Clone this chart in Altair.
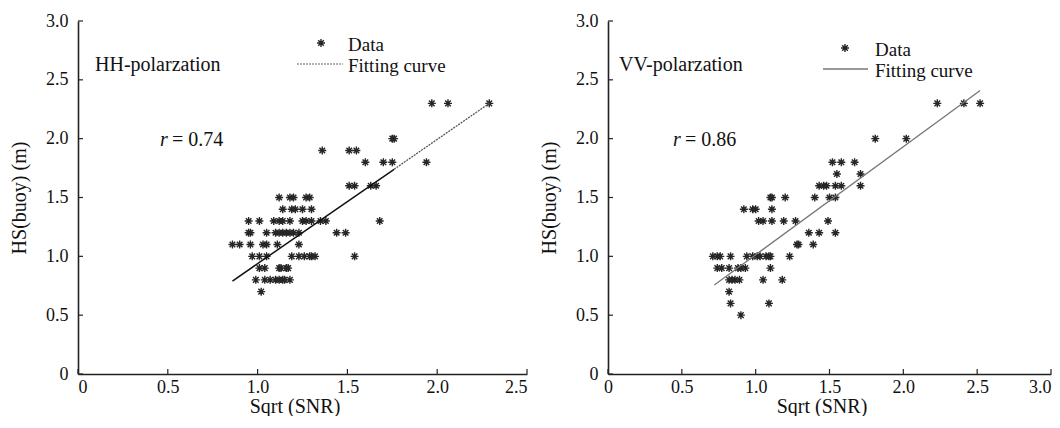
import altair as alt
import pandas as pd

FONT = "Liberation Serif"

# ---------------- data ----------------
# HH-polarization scatter
hh_x = [1.97, 2.06, 2.29,
        1.75, 1.76,
        1.36, 1.51, 1.55,
        1.60, 1.70, 1.75, 1.94,
        1.51, 1.54, 1.63, 1.66,
        1.12, 1.18, 1.20, 1.27, 1.29,
        1.14, 1.19, 1.21, 1.25, 1.30,
        0.95, 1.01, 1.09, 1.12, 1.14, 1.18, 1.25, 1.27, 1.30, 1.35, 1.38, 1.68,
        0.95, 0.96, 1.05, 1.10, 1.12, 1.14, 1.16, 1.18, 1.20, 1.23, 1.44, 1.49,
        0.86, 0.90, 0.96, 1.03, 1.05, 1.11, 1.23,
        0.97, 1.01, 1.05, 1.19, 1.23, 1.26, 1.29, 1.30, 1.32, 1.54,
        1.01, 1.04, 1.12, 1.13, 1.16, 1.17,
        0.99, 1.04, 1.07, 1.10, 1.12, 1.14, 1.15, 1.18,
        1.02]
hh_y = [2.3, 2.3, 2.3,
        2.0, 2.0,
        1.9, 1.9, 1.9,
        1.8, 1.8, 1.8, 1.8,
        1.6, 1.6, 1.6, 1.6,
        1.5, 1.5, 1.5, 1.5, 1.5,
        1.4, 1.4, 1.4, 1.4, 1.4,
        1.3, 1.3, 1.3, 1.3, 1.3, 1.3, 1.3, 1.3, 1.3, 1.3, 1.3, 1.3,
        1.2, 1.2, 1.2, 1.2, 1.2, 1.2, 1.2, 1.2, 1.2, 1.2, 1.2, 1.2,
        1.1, 1.1, 1.1, 1.1, 1.1, 1.1, 1.1,
        1.0, 1.0, 1.0, 1.0, 1.0, 1.0, 1.0, 1.0, 1.0, 1.0,
        0.9, 0.9, 0.9, 0.9, 0.9, 0.9,
        0.8, 0.8, 0.8, 0.8, 0.8, 0.8, 0.8, 0.8,
        0.7]

# VV-polarization scatter
vv_x = [2.23, 2.41, 2.52,
        1.81, 2.02,
        1.52, 1.58, 1.67,
        1.55, 1.71,
        1.43, 1.46, 1.48, 1.54, 1.58, 1.71,
        1.10, 1.11, 1.20, 1.40, 1.50, 1.54,
        0.92, 0.98, 1.00, 1.11,
        1.02, 1.05, 1.11, 1.19, 1.27, 1.49,
        1.36, 1.43, 1.54,
        1.28, 1.29, 1.39,
        0.71, 0.74, 0.76, 0.83, 0.94, 0.98, 1.01, 1.03, 1.07, 1.09, 1.10, 1.23,
        0.74, 0.77, 0.82, 0.88, 0.90, 0.93, 1.10,
        0.82, 0.84, 0.86, 0.89, 1.05, 1.18,
        0.82,
        0.83, 1.09,
        0.90]
vv_y = [2.3, 2.3, 2.3,
        2.0, 2.0,
        1.8, 1.8, 1.8,
        1.7, 1.7,
        1.6, 1.6, 1.6, 1.6, 1.6, 1.6,
        1.5, 1.5, 1.5, 1.5, 1.5, 1.5,
        1.4, 1.4, 1.4, 1.4,
        1.3, 1.3, 1.3, 1.3, 1.3, 1.3,
        1.2, 1.2, 1.2,
        1.1, 1.1, 1.1,
        1.0, 1.0, 1.0, 1.0, 1.0, 1.0, 1.0, 1.0, 1.0, 1.0, 1.0, 1.0,
        0.9, 0.9, 0.9, 0.9, 0.9, 0.9, 0.9,
        0.8, 0.8, 0.8, 0.8, 0.8, 0.8,
        0.7,
        0.6, 0.6,
        0.5]

# fitting lines (end points)
hh_fit_solid_x = [0.86, 1.76]
hh_fit_solid_y = [0.79, 1.74]
hh_fit_dot_x = [1.76, 2.29]
hh_fit_dot_y = [1.74, 2.30]
vv_fit_x = [0.72, 2.52]
vv_fit_y = [0.756, 2.41]

y_ticks = [0, 0.5, 1.0, 1.5, 2.0, 2.5, 3.0]
hh_x_ticks = [0, 0.5, 1.0, 1.5, 2.0, 2.5]
vv_x_ticks = [0, 0.5, 1.0, 1.5, 2.0, 2.5, 3.0]

# ---------------- styling ----------------
STAR = "M-1,0L1,0M0,-1L0,1M-0.7,-0.7L0.7,0.7M-0.7,0.7L0.7,-0.7"
TXT = "#111111"
AX = "#222222"
PT = "#262626"
H = 353
LABEL_EXPR = "datum.value == 0 ? '0' : format(datum.value, '.1f')"


def panel(px, py, fits, xmax, xticks, width, pol_text, r_val, pol_dx, r_dx,
          leg, leg_line_style, label_align=None):
    xs = alt.Scale(domain=[0, xmax], nice=False, zero=False)
    ys = alt.Scale(domain=[0, 3], nice=False, zero=False)
    common = dict(
        ticks=False, grid=False, domainColor=AX, domainWidth=1.6,
        labelFont=FONT, labelFontSize=18, labelColor=TXT,
        titleFont=FONT, titleFontSize=20, titleFontWeight="normal", titleColor=TXT,
    )
    xaxis_kw = dict(
        values=xticks, labelExpr=LABEL_EXPR, title="Sqrt (SNR)",
        titleX=width / 2 - 8, titleY=32, titleBaseline="middle", titleAlign="center",
        labelPadding=4, **common
    )
    if label_align is not None:
        xaxis_kw["labelAlign"] = label_align
    xaxis = alt.Axis(**xaxis_kw)
    yaxis = alt.Axis(
        values=y_ticks, labelExpr=LABEL_EXPR, title="HS(buoy) (m)",
        titleAngle=270, titleX=-59, titleY=H / 2, titleBaseline="middle",
        titleAlign="center", labelPadding=10, **common
    )

    def X(f):
        return alt.X(f, scale=xs, axis=xaxis)

    def Y(f):
        return alt.Y(f, scale=ys, axis=yaxis)

    pts = alt.Chart(pd.DataFrame({"x": px, "y": py})).mark_point(
        shape=STAR, size=64, filled=False, stroke=PT, strokeWidth=1.4, opacity=1
    ).encode(x=X("x:Q"), y=Y("y:Q"))

    layers = [pts]
    for fx, fy, style in fits:
        layers.append(
            alt.Chart(pd.DataFrame({"x": fx, "y": fy})).mark_line(**style).encode(
                x=X("x:Q"), y=Y("y:Q")
            )
        )

    # inward ticks
    layers.append(
        alt.Chart(pd.DataFrame({"x": xticks})).mark_rule(color=AX, strokeWidth=1.2).encode(
            x=X("x:Q"), y=alt.value(H), y2=alt.value(H - 5)
        )
    )
    layers.append(
        alt.Chart(pd.DataFrame({"y": y_ticks})).mark_rule(color=AX, strokeWidth=1.2).encode(
            y=Y("y:Q"), x=alt.value(0), x2=alt.value(5)
        )
    )

    def txt(t, x, y, style="normal", size=20):
        return alt.Chart(pd.DataFrame({"t": [t]})).mark_text(
            align="left", baseline="middle", font=FONT, fontSize=size,
            fontStyle=style, color=TXT
        ).encode(text="t:N", x=alt.value(x), y=alt.value(y))

    layers.append(txt(pol_text, pol_dx, 44))
    layers.append(txt("r", r_dx, 119, "italic"))
    layers.append(txt("= " + r_val, r_dx + 12, 119))

    # legend
    star_x, star_y, data_x, data_y, l_x1, l_x2, l_y, fit_y = leg
    layers.append(
        alt.Chart(pd.DataFrame({"k": ["Data"]})).mark_point(
            shape=STAR, size=64, filled=False, stroke=PT, strokeWidth=1.4, opacity=1
        ).encode(x=alt.value(star_x), y=alt.value(star_y))
    )
    layers.append(txt("Data", data_x, data_y, size=19))
    layers.append(
        alt.Chart(pd.DataFrame({"k": ["Fit"]})).mark_rule(**leg_line_style).encode(
            x=alt.value(l_x1), x2=alt.value(l_x2), y=alt.value(l_y)
        )
    )
    layers.append(txt("Fitting curve", data_x, fit_y, size=19))

    return alt.layer(*layers).properties(width=width, height=H)


left = panel(
    hh_x, hh_y,
    [
        (hh_fit_solid_x, hh_fit_solid_y, dict(color="#111111", strokeWidth=1.5)),
        (hh_fit_dot_x, hh_fit_dot_y, dict(color="#555555", strokeWidth=1.3, strokeDash=[2, 1])),
    ],
    2.5, hh_x_ticks, 449, "HH-polarzation", "0.74", 17, 82,
    (243, 22, 270, 24, 219, 265, 43, 45),
    dict(color="#666666", strokeWidth=1.2, strokeDash=[2, 1]),
)

right = panel(
    vv_x, vv_y,
    [
        (vv_fit_x, vv_fit_y, dict(color="#777777", strokeWidth=1.3)),
    ],
    3.0, vv_x_ticks, 443, "VV-polarzation", "0.86", 11, 65,
    (237, 27, 267, 29, 215, 260, 48, 50),
    dict(color="#777777", strokeWidth=1.3),
    label_align={"condition": {"test": "datum.value >= 3", "value": "right"}, "value": "center"},
)

chart = alt.hconcat(left, right, spacing=81, bounds="flush").properties(
    padding={"left": 1, "top": 4, "right": 0, "bottom": 0}
).configure(font=FONT).configure_view(stroke=None).configure_axis(
    labelFont=FONT, titleFont=FONT,
).configure_text(font=FONT)

chart.save("out.html", embed_options={"renderer": "svg", "actions": False})
